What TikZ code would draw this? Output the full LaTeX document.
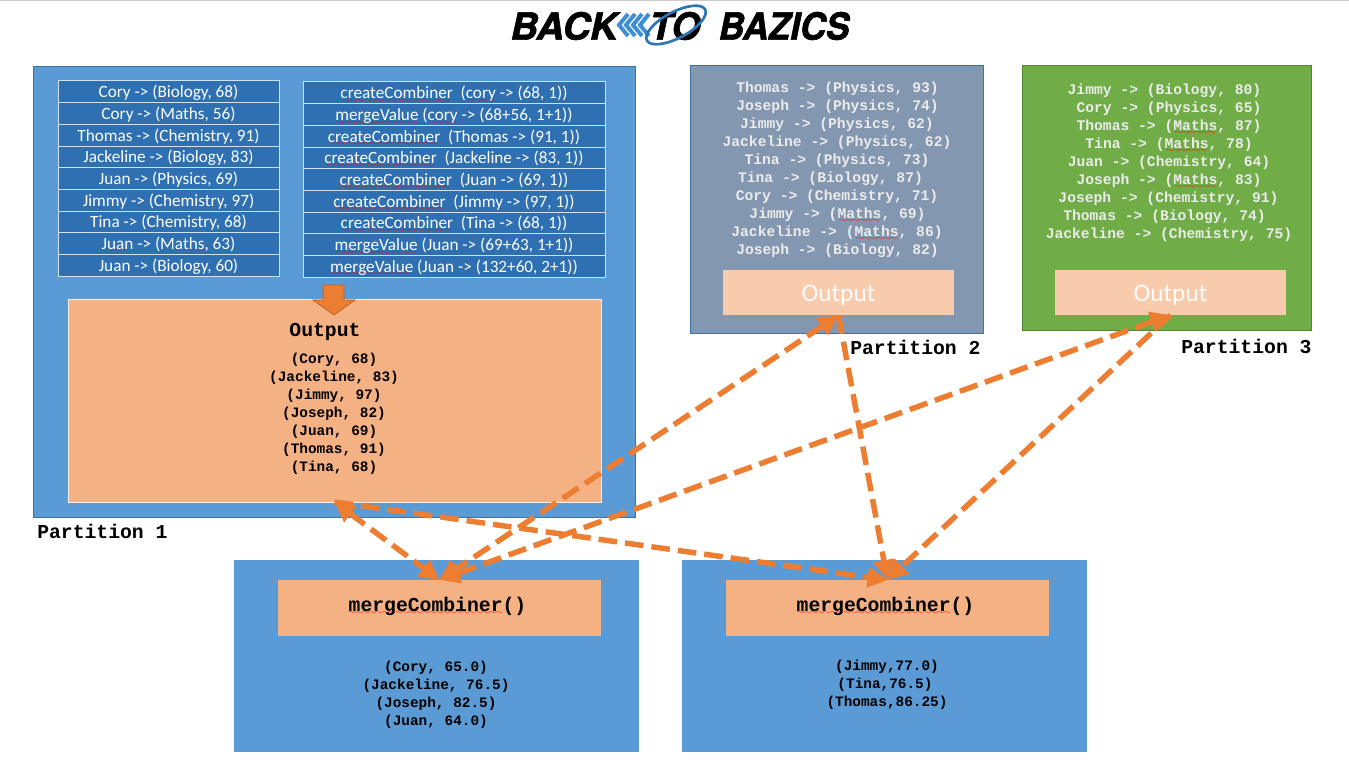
\documentclass[tikz,border=0pt]{standalone}
\usepackage{fontspec}
\usetikzlibrary{arrows.meta}
\newfontfamily\calfont{Carlito}
\newfontfamily\courfont{Liberation Mono}
\newfontfamily\logofont{TeX Gyre Heros}[BoldItalicFeatures={FakeBold=1.6}]
\font\spellfont=lasy6
\definecolor{partblue}{HTML}{5B9BD5}
\definecolor{partedge}{HTML}{41719C}
\definecolor{cellblue}{HTML}{2E70B2}
\definecolor{celledge}{HTML}{CFE2F3}
\definecolor{partgrey}{HTML}{8497B0}
\definecolor{partgreen}{HTML}{70AD47}
\definecolor{outdark}{HTML}{F4B183}
\definecolor{outlight}{HTML}{F8CBAD}
\definecolor{flow}{HTML}{ED7D31}
\definecolor{logoblue}{HTML}{3F8FD6}
\definecolor{logoring}{HTML}{2E75B6}
\newsavebox\spellbox
\newcommand\spell[1]{\sbox\spellbox{#1}\leavevmode\rlap{\textcolor{red}{\lower2.8pt\hbox to\wd\spellbox{\cleaders\hbox{\spellfont\char58}\hfil}}}\usebox\spellbox}
\newcommand\sink[2]{\raisebox{-#1}[\height][\depth]{#2}}
\def\px{0.75pt}
\tikzset{
  part/.style={draw=partedge,line width=0.75pt,outer sep=0pt,inner sep=0pt},
  cell/.style={draw=celledge,line width=0.75pt,fill=cellblue,text=white,font=\calfont\fontsize{12.9pt}{14pt}\selectfont,
    outer sep=0pt,inner sep=0pt,minimum height=21.7*\px},
  outbox/.style={fill=outdark,outer sep=0pt,inner sep=0pt},
  outpale/.style={fill=outlight,text=white!95!outlight,font=\calfont\fontsize{19pt}{20pt}\selectfont,outer sep=0pt,inner sep=0pt,
    minimum width=231*\px,minimum height=45*\px},
  logotext/.style={font=\logofont\bfseries\itshape\fontsize{28pt}{30pt}\selectfont,inner sep=0pt},
  bigmono/.style={font=\courfont\bfseries\fontsize{14.8pt}{16pt}\selectfont,inner sep=0pt},
  smallmono/.style={font=\courfont\bfseries\fontsize{10.8pt}{12pt}\selectfont,inner sep=0pt},
  whitemono/.style={font=\courfont\bfseries\fontsize{11pt}{12pt}\selectfont,text=white!92!black,inner sep=0pt},
  flowline/.style={draw=flow,line width=4.1pt,dash pattern=on 14pt off 6pt,
    -{Triangle[length=15pt,width=15pt]}},
  flowboth/.style={flowline,{Triangle[length=15pt,width=15pt]}-{Triangle[length=15pt,width=15pt]}},
}
\begin{document}
\begin{tikzpicture}[x=0.75pt,y=-0.75pt]
  \useasboundingbox (0,0) rectangle (1349,773);
  \draw[black!20,line width=1pt] (0,0.5) -- (1349,0.5);

  % logo
  \node[logotext,xscale=1.02] (logoback) at (564,26) {BACK};
  \foreach \x in {619,626,633,640}
    \draw[logoblue,line width=3pt] (\x+9,14) -- (\x,25) -- (\x+9,36);
  \node[logotext] (logoto) at (675,26) {TO};
  \node[logotext,xscale=0.95] (logobaz) at (784,26) {BAZICS};
  \draw[logoring,line width=2pt,rotate around={28:(676,25)}] (676,25) ellipse (33 and 13);

  % partition 1
  \node[part,fill=partblue,minimum width=602*\px,minimum height=450*\px] (part1) at (334,292) {};
  \foreach \txt [count=\i] in {{Cory -> (Biology, 68)},{Cory -> (Maths, 56)},{Thomas -> (Chemistry, 91)},
      {Jackeline -> (Biology, 83)},{Juan -> (Physics, 69)},{Jimmy -> (Chemistry, 97)},
      {Tina -> (Chemistry, 68)},{Juan -> (Maths, 63)},{Juan -> (Biology, 60)}}
    \node[cell,minimum width=221*\px] (left\i) at (168.5,{81+21.7*(\i-0.5)}) {\sink{0.7pt}{\txt}};
  \foreach \txt [count=\i] in {{\spell{createCombiner}\ \ (\spell{cory} -> (68, 1))},
      {\spell{mergeValue} (\spell{cory} -> (68+56, 1+1))},
      {\spell{createCombiner}\ \ (Thomas -> (91, 1))},
      {\spell{createCombiner}\ \ (Jackeline -> (83, 1))},
      {\spell{createCombiner}\ \ (Juan -> (69, 1))},
      {\spell{createCombiner}\ \ (Jimmy -> (97, 1))},
      {\spell{createCombiner}\ \ (Tina -> (68, 1))},
      {\spell{mergeValue} (Juan -> (69+63, 1+1))},
      {\spell{mergeValue} (Juan -> (132+60, 2+1))}}
    \node[cell,minimum width=302*\px] (right\i) at (454,{82+21.7*(\i-0.5)}) {\sink{1pt}{\txt}};
  \node[outbox,draw=white!80!outdark,line width=0.75pt,minimum width=533*\px,minimum height=202*\px] (out1) at (334.5,401) {};
  \draw[fill=flow,draw=flow!75!black,line width=0.5pt] (323,285) -- (344,285) -- (344,300) -- (355,300)
    -- (334,315) -- (313,300) -- (323,300) -- cycle;
  \node[bigmono] (outtitle) at (325,331.5) {Output};
  \foreach \txt [count=\i] in {{(Cory, 68)},{(Jackeline, 83)},{(Jimmy, 97)},{(Joseph, 82)},
      {(Juan, 69)},{(Thomas, 91)},{(Tina, 68)}}
    \node[smallmono] (outrow\i) at (334,{360+18*(\i-1)}) {\txt};
  \node[bigmono,anchor=west] (label1) at (37,531) {Partition 1};

  % partition 2
  \node[part,fill=partgrey,minimum width=293*\px,minimum height=268*\px] (part2) at (836.5,200) {};
  \foreach \cx/\txt [count=\i] in {837.5/{Thomas -> (Physics, 93)},837.5/{Joseph -> (Physics, 74)},
      837/{Jimmy -> (Physics, 62)},837/{Jackeline -> (Physics, 62)},837/{Tina -> (Physics, 73)},
      830.5/{Tina -> (Biology, 87)},837/{Cory -> (Chemistry, 71)},837.5/{Jimmy -> (\spell{Maths}, 69)},
      837/{Jackeline -> (\spell{Maths}, 86)},837.5/{Joseph -> (Biology, 82)}}
    \node[whitemono] (mid\i) at (\cx,{89+18*(\i-1)}) {\txt};
  \node[outpale] (out2) at (838.5,293) {\sink{1.5pt}{Output}};
  \node[bigmono,anchor=west] (label2) at (850,347) {Partition 2};

  % partition 3
  \node[part,fill=partgreen,draw=partgreen!75!black,minimum width=289*\px,minimum height=265*\px] (part3) at (1166.5,198.5) {};
  \foreach \cx/\txt [count=\i] in {1164.5/{Jimmy -> (Biology, 80)},1169/{Cory -> (Physics, 65)},
      1169/{Thomas -> (\spell{Maths}, 87)},1169/{Tina -> (\spell{Maths}, 78)},1169/{Juan -> (Chemistry, 64)},
      1169/{Joseph -> (\spell{Maths}, 83)},1168.5/{Joseph -> (Chemistry, 91)},1164.5/{Thomas -> (Biology, 74)},
      1169/{Jackeline -> (Chemistry, 75)}}
    \node[whitemono] (far\i) at (\cx,{91+18*(\i-1)}) {\txt};
  \node[outpale] (out3) at (1170.5,292.5) {\sink{2pt}{Output}};
  \node[bigmono,anchor=west] (label3) at (1181,346) {Partition 3};

  % merge boxes
  \node[fill=partblue,minimum width=405*\px,minimum height=192*\px,outer sep=0pt,inner sep=0pt] (merge1) at (436.5,656) {};
  \node[outbox,minimum width=323*\px,minimum height=56*\px] (comb1) at (439.5,608) {};
  \node[bigmono] (combtext1) at (437.5,606) {\spell{mergeCombiner}()};
  \foreach \txt [count=\i] in {{(Cory, 65.0)},{(Jackeline, 76.5)},{(Joseph, 82.5)},{(Juan, 64.0)}}
    \node[smallmono] (resa\i) at (436,{668+18*(\i-1)}) {\txt};

  \node[fill=partblue,minimum width=405*\px,minimum height=192*\px,outer sep=0pt,inner sep=0pt] (merge2) at (884.5,656) {};
  \node[outbox,minimum width=323*\px,minimum height=56*\px] (comb2) at (887.5,608) {};
  \node[bigmono] (combtext2) at (885.5,606) {\spell{mergeCombiner}()};
  \foreach \cx/\txt [count=\i] in {887/{(Jimmy,77.0)},885/{(Tina,76.5)},887/{(Thomas,86.25)}}
    \node[smallmono] (resb\i) at (\cx,{667+18*(\i-1)}) {\txt};

  % flows
  \draw[flowboth] (out1.south) -- (comb1.north);
  \draw[flowboth] (out2.south) -- (comb1.north);
  \draw[flowboth] (out3.south) -- (comb1.north);
  \draw[flowline] (out1.south) -- (comb2.north);
  \draw[flowline] (out2.south) -- (comb2.north);
  \draw[flowline] (out3.south) -- (comb2.north);
\end{tikzpicture}
\end{document}
